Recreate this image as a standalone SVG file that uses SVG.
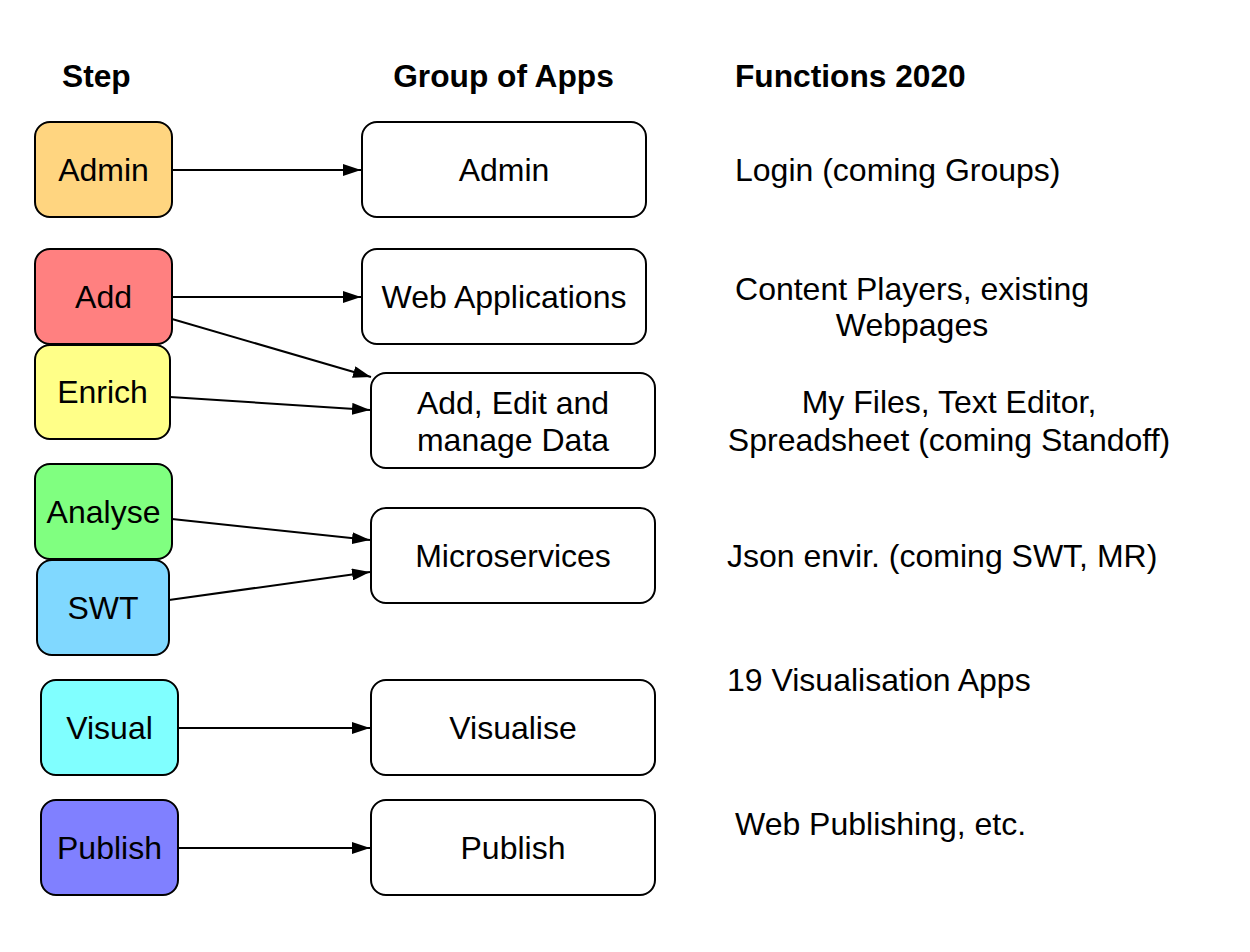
<svg xmlns="http://www.w3.org/2000/svg" width="1250" height="952" viewBox="0 0 1250 952">
<defs>
<marker id="arr" markerWidth="18" markerHeight="12" refX="18" refY="6" orient="auto" markerUnits="userSpaceOnUse" viewBox="0 0 18 12">
<path d="M0,0 L18,6 L0,12 Z" fill="#000"/>
</marker>
<style>
text{font-family:"Liberation Sans",Arial,Helvetica,sans-serif;font-size:32px;fill:#000}
.h{font-weight:bold;font-size:31.7px}
.m{text-anchor:middle}
.n{stroke:#000;stroke-width:2}
.c{stroke:#000;stroke-width:2;fill:none;marker-end:url(#arr)}
</style>
</defs>
<rect x="0" y="0" width="1250" height="952" fill="#fff"/>
<g id="headers">
<text class="h" x="62" y="87">Step</text>
<text class="h m" x="503.5" y="87">Group of Apps</text>
<text class="h" x="735" y="87">Functions 2020</text>
</g>
<g id="step-admin"><rect class="n" x="35" y="122" width="137" height="95" rx="15" fill="#FFD580"/><text class="m" x="103.5" y="181">Admin</text></g>
<g id="step-add"><rect class="n" x="35" y="249" width="137" height="95" rx="15" fill="#FF8080"/><text class="m" x="103.5" y="308">Add</text></g>
<g id="step-enrich"><rect class="n" x="35" y="345" width="135" height="94" rx="15" fill="#FFFF88"/><text class="m" x="102.5" y="403">Enrich</text></g>
<g id="step-analyse"><rect class="n" x="35" y="464" width="137" height="95" rx="15" fill="#80FF80"/><text class="m" x="103.5" y="523">Analyse</text></g>
<g id="step-swt"><rect class="n" x="37" y="560" width="132" height="95" rx="15" fill="#80D8FF"/><text class="m" x="103" y="619">SWT</text></g>
<g id="step-visual"><rect class="n" x="41" y="680" width="137" height="95" rx="15" fill="#80FFFF"/><text class="m" x="109.5" y="739">Visual</text></g>
<g id="step-publish"><rect class="n" x="41" y="800" width="137" height="95" rx="15" fill="#8080FF"/><text class="m" x="109.5" y="859">Publish</text></g>

<g id="grp-admin"><rect class="n" x="362" y="122" width="284" height="95" rx="15" fill="#fff"/><text class="m" x="504" y="181">Admin</text></g>
<g id="grp-web"><rect class="n" x="362" y="249" width="284" height="95" rx="15" fill="#fff"/><text class="m" x="504" y="308">Web Applications</text></g>
<g id="grp-data"><rect class="n" x="371" y="373" width="284" height="95" rx="15" fill="#fff"/><text class="m" x="513" y="414">Add, Edit and</text><text class="m" x="513" y="451">manage Data</text></g>
<g id="grp-micro"><rect class="n" x="371" y="508" width="284" height="95" rx="15" fill="#fff"/><text class="m" x="513" y="567">Microservices</text></g>
<g id="grp-visualise"><rect class="n" x="371" y="680" width="284" height="95" rx="15" fill="#fff"/><text class="m" x="513" y="739">Visualise</text></g>
<g id="grp-publish"><rect class="n" x="371" y="800" width="284" height="95" rx="15" fill="#fff"/><text class="m" x="513" y="859">Publish</text></g>

<g id="connectors">
<line class="c" x1="172" y1="170" x2="361" y2="170"/>
<line class="c" x1="172" y1="297" x2="361" y2="297"/>
<line class="c" x1="172" y1="319" x2="371" y2="377"/>
<line class="c" x1="170" y1="397" x2="370" y2="410"/>
<line class="c" x1="172" y1="519" x2="370" y2="540"/>
<line class="c" x1="169" y1="600" x2="370" y2="572"/>
<line class="c" x1="178" y1="728" x2="370" y2="728"/>
<line class="c" x1="178" y1="848" x2="370" y2="848"/>
</g>

<g id="functions">
<text x="735" y="181">Login (coming Groups)</text>
<text class="m" x="912" y="300">Content Players, existing</text>
<text class="m" x="912" y="336">Webpages</text>
<text class="m" x="949" y="413">My Files, Text Editor,</text>
<text class="m" x="949" y="451">Spreadsheet (coming Standoff)</text>
<text x="727" y="567">Json envir. (coming SWT, MR)</text>
<text x="727" y="691">19 Visualisation Apps</text>
<text x="735" y="835">Web Publishing, etc.</text>
</g>
</svg>
